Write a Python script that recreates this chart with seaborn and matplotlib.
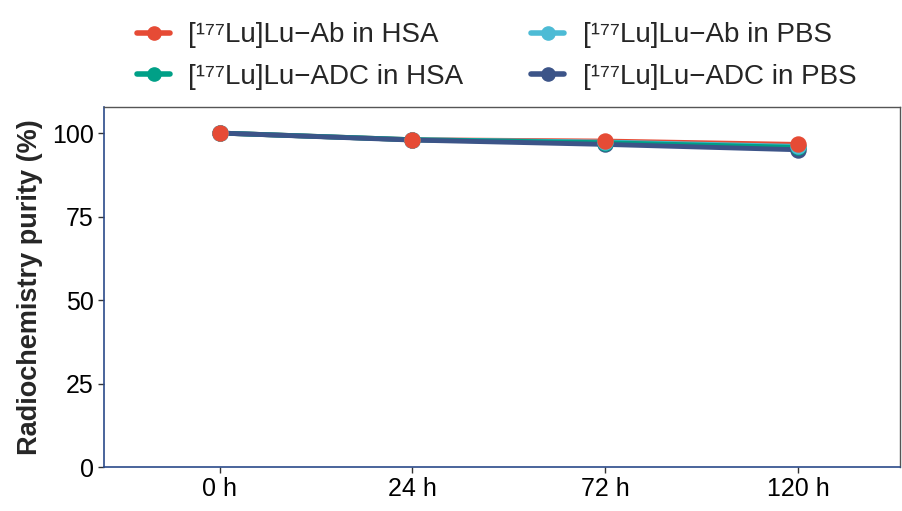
import pandas as pd
import matplotlib.pyplot as plt
import seaborn as sns
from matplotlib.lines import Line2D

times = ['0 h', '24 h', '72 h', '120 h']
groups = ['[¹⁷⁷Lu]Lu−Ab in HSA', '[¹⁷⁷Lu]Lu−Ab in PBS',
          '[¹⁷⁷Lu]Lu−ADC in HSA', '[¹⁷⁷Lu]Lu−ADC in PBS']
ab_hsa = [100.0, 98.0, 97.6, 96.6]
ab_pbs = [100.0, 98.0, 97.3, 96.0]
adc_hsa = [100.0, 98.0, 97.1, 95.7]
adc_pbs = [100.0, 97.9, 96.6, 95.0]
colors = ['#E64B35', '#4DBBD5', '#00A087', '#3C5488']

sns.set_style('white')
plt.rcParams['font.family'] = ['Liberation Sans', 'DejaVu Sans']

rows = []
for g, vals in zip(groups, [ab_hsa, ab_pbs, adc_hsa, adc_pbs]):
    for t, v in zip(times, vals):
        rows.append({'time': t, 'purity': v, 'group': g})
df = pd.DataFrame(rows)
df['x'] = df['time'].map({t: i for i, t in enumerate(times)})
palette = dict(zip(groups, colors))

fig = plt.figure(figsize=(9.02, 5.11), dpi=100)
ax = fig.add_axes([0.1153, 0.0861, 0.8827, 0.7045])

sns.lineplot(data=df, x='x', y='purity', hue='group', hue_order=groups,
             palette=palette, linewidth=3.5, ax=ax, legend=False)
# points: red drawn last so it sits on top
for g in groups[::-1]:
    sub = df[df['group'] == g]
    sns.scatterplot(data=sub, x='x', y='purity', color=palette[g], s=140,
                    linewidth=0, ax=ax, legend=False, zorder=3)

ax.set_xlim(-0.6, 3.53)
ax.set_ylim(0, 107.8)
ax.set_xticks(range(len(times)))
ax.set_xticklabels(times)
ax.set_yticks([0, 25, 50, 75, 100])
ax.set_xlabel('')
ax.set_ylabel('Radiochemistry purity (%)', fontsize=19.5, fontweight='bold', labelpad=6)
ax.tick_params(axis='both', labelsize=18, length=4, width=1, color='#333333',
               direction='out', bottom=True, left=True, labelcolor='black')
for s in ['top', 'right']:
    ax.spines[s].set_color('#555555')
    ax.spines[s].set_linewidth(1)
for s in ['left', 'bottom']:
    ax.spines[s].set_color('#2B4A8A')
    ax.spines[s].set_linewidth(1.2)

legend_order = [0, 2, 1, 3]
handles = [Line2D([0], [0], color=colors[i], lw=4, marker='o', markersize=9.5)
           for i in legend_order]
labels = [groups[i] for i in legend_order]
fig.legend(handles, labels, ncol=2, loc='upper left', bbox_to_anchor=(0.152, 0.956),
           frameon=False, fontsize=20, handlelength=1.19, handletextpad=0.65,
           columnspacing=2.45, labelspacing=0.55, borderpad=0, borderaxespad=0)

fig.savefig('out.png', dpi=100)
